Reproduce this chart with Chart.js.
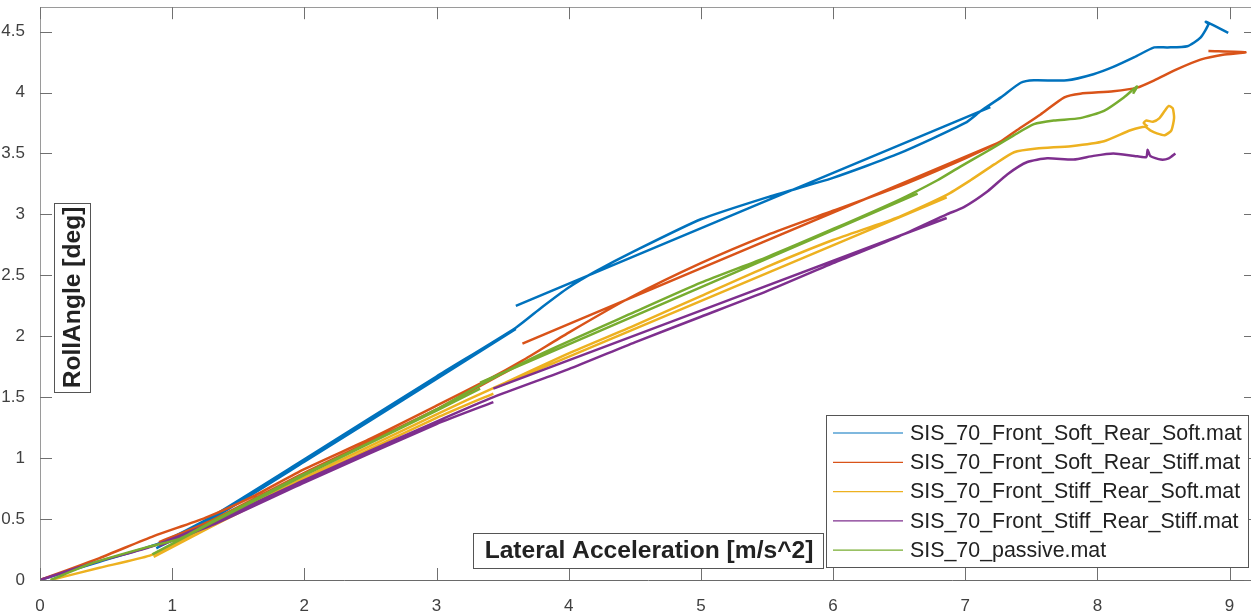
<!DOCTYPE html>
<html>
<head>
<meta charset="utf-8">
<script src="https://cdn.jsdelivr.net/npm/chart.js@4.4.0/dist/chart.umd.min.js"></script>
<style>
  html, body { margin: 0; padding: 0; overflow: hidden; background: #fff; }
  #wrap { position: relative; width: 1258px; height: 621px; margin-top: -10px; }
</style>
</head>
<body>
<div id="wrap"><canvas id="container" width="1258" height="621"></canvas></div>
<script>
// ---- data ----
const seriesNames = [
  "SIS_70_Front_Soft_Rear_Soft.mat",
  "SIS_70_Front_Soft_Rear_Stiff.mat",
  "SIS_70_Front_Stiff_Rear_Soft.mat",
  "SIS_70_Front_Stiff_Rear_Stiff.mat",
  "SIS_70_passive.mat",
];

// null = break in the recorded trace
const softSoftX = [0, 0.45, 0.9, 1.3, 2, 3, 3.6, 3.8, 4.0, 4.2, 4.5, 5, 5.5, 6, 6.5, 7, 7.12, 7.27, 7.42, 7.52, 7.77, 7.97, 8.12, 8.28, 8.43, 8.53, 8.68, 8.78, 8.84, 8.82, 8.88, 8.99,
  null, 7.19, 3.6,
  null, 3.6, 3, 2, 1.3, 0.88];
const softSoftY = [0, 0.15, 0.3, 0.52, 0.99, 1.67, 2.07, 2.24, 2.4, 2.53, 2.7, 2.96, 3.14, 3.3, 3.5, 3.75, 3.85, 3.96, 4.08, 4.1, 4.1, 4.15, 4.21, 4.29, 4.37, 4.37, 4.38, 4.45, 4.56, 4.58, 4.55, 4.49,
  null, 3.88, 2.25,
  null, 2.06, 1.65, 0.97, 0.5, 0.26];

const softStiffX = [0, 0.45, 0.86, 1.25, 1.6, 2, 2.5, 3, 3.4, 3.65, 4, 4.47, 5, 5.5, 6, 6.5, 7, 7.27, 7.39, 7.57, 7.75, 7.87, 8.12, 8.3, 8.43, 8.6, 8.78, 8.95, 9.12, 8.84,
  null, 7.28, 3.65,
  null, 3.63, 3, 2, 1.3, 0.9];
const softStiffY = [0, 0.18, 0.36, 0.51, 0.68, 0.91, 1.16, 1.43, 1.65, 1.8, 2.03, 2.32, 2.6, 2.83, 3.03, 3.23, 3.46, 3.6, 3.69, 3.82, 3.96, 3.99, 4.01, 4.04, 4.1, 4.19, 4.27, 4.31, 4.33, 4.34,
  null, 3.6, 1.94,
  null, 1.77, 1.4, 0.88, 0.49, 0.31];

const stiffSoftX = [0.08, 0.45, 0.83, 1.0, 1.3, 2, 2.5, 3, 3.5, 4, 4.5, 5, 5.5, 6, 6.5, 6.86, 7.04, 7.22, 7.37, 7.54, 7.8, 8.05, 8.25, 8.36, 8.4, 8.45, 8.51, 8.56, 8.58, 8.57, 8.54, 8.51, 8.47, 8.42, 8.37, 8.35, 8.38,
  null, 6.86, 3.45,
  null, 3.43, 3, 2, 1.3, 0.86];
const stiffSoftY = [0, 0.1, 0.2, 0.29, 0.46, 0.84, 1.1, 1.36, 1.61, 1.86, 2.09, 2.33, 2.57, 2.79, 2.98, 3.16, 3.28, 3.41, 3.51, 3.54, 3.56, 3.6, 3.69, 3.72, 3.69, 3.665, 3.65, 3.69, 3.79, 3.87, 3.89, 3.85, 3.79, 3.76, 3.77, 3.75, 3.72,
  null, 3.14, 1.58,
  null, 1.53, 1.33, 0.82, 0.44, 0.19];

const stiffStiffX = [0, 0.4, 0.83, 1.3, 2, 3, 3.43, 4, 4.5, 5, 5.5, 6, 6.5, 6.86, 6.99, 7.17, 7.32, 7.47, 7.62, 7.82, 7.97, 8.12, 8.28, 8.37, 8.38, 8.4, 8.48, 8.54, 8.59,
  null, 6.86, 3.43,
  null, 3.43, 3, 2, 1.3, 0.9];
const stiffStiffY = [0, 0.14, 0.27, 0.47, 0.82, 1.3, 1.5, 1.73, 1.95, 2.16, 2.37, 2.6, 2.82, 3.0, 3.06, 3.19, 3.33, 3.43, 3.46, 3.45, 3.48, 3.5, 3.48, 3.47, 3.53, 3.48, 3.45, 3.46, 3.5,
  null, 2.97, 1.57,
  null, 1.46, 1.28, 0.8, 0.45, 0.28];

const passiveX = [0.08, 0.4, 0.81, 1.06, 1.3, 2, 2.5, 3, 3.33, 3.8, 4.5, 5, 5.5, 6, 6.5, 6.79, 6.96, 7.17, 7.37, 7.52, 7.67, 7.87, 8.05, 8.2, 8.3, 8.27,
  null, 6.64, 3.33,
  null, 3.33, 3, 2, 1.3, 0.85];
const passiveY = [0, 0.14, 0.27, 0.34, 0.48, 0.87, 1.13, 1.4, 1.6, 1.86, 2.2, 2.44, 2.65, 2.88, 3.12, 3.28, 3.39, 3.52, 3.65, 3.74, 3.77, 3.79, 3.85, 3.96, 4.05, 3.99,
  null, 3.17, 1.62,
  null, 1.57, 1.39, 0.86, 0.47, 0.21];

const xTicks = [0, 1, 2, 3, 4, 5, 6, 7, 8, 9];
const yTicks = [0, 0.5, 1, 1.5, 2, 2.5, 3, 3.5, 4, 4.5];

const colors = ["#0072BD", "#D95319", "#EDB120", "#7E2F8E", "#77AC30"];
const FONT = "'Liberation Sans', Arial, Helvetica, sans-serif";

const toPoints = (xs, ys) => xs.map((x, i) => ({ x: x, y: ys[i] }));

const traces = [
  toPoints(softSoftX, softSoftY),
  toPoints(softStiffX, softStiffY),
  toPoints(stiffSoftX, stiffSoftY),
  toPoints(stiffStiffX, stiffStiffY),
  toPoints(passiveX, passiveY),
];

// inward ticks + box, matlab style
const boxTicks = {
  id: "boxTicks",
  afterDraw(chart) {
    const { ctx, chartArea: a, scales: { x, y } } = chart;
    const len = 12;
    ctx.save();
    ctx.lineWidth = 1;
    ctx.strokeStyle = "#9a9a9a";
    ctx.beginPath();
    ctx.moveTo(a.left, Math.round(a.top) + 0.5);
    ctx.lineTo(a.right, Math.round(a.top) + 0.5);
    ctx.moveTo(a.right - 0.5, a.top);
    ctx.lineTo(a.right - 0.5, a.bottom);
    ctx.stroke();
    ctx.strokeStyle = "#707070";
    ctx.beginPath();
    xTicks.forEach((v) => {
      const px = Math.round(x.getPixelForValue(v)) + 0.5;
      ctx.moveTo(px, a.bottom);
      ctx.lineTo(px, a.bottom - len);
      ctx.moveTo(px, a.top);
      ctx.lineTo(px, a.top + len);
    });
    yTicks.forEach((v) => {
      const py = Math.round(y.getPixelForValue(v)) + 0.5;
      ctx.moveTo(a.left, py);
      ctx.lineTo(a.left + len, py);
      ctx.moveTo(a.right, py);
      ctx.lineTo(a.right - len, py);
    });
    ctx.stroke();
    ctx.restore();
  },
};

// boxed axis labels and legend drawn inside the axes (page y = canvas y - 10)
const boxedText = {
  id: "boxedText",
  afterDraw(chart) {
    const { ctx } = chart;
    const dy = 10;
    ctx.save();
    ctx.fillStyle = "#fff";
    ctx.strokeStyle = "#555";
    ctx.lineWidth = 1;

    // x label
    ctx.fillRect(473, 533 + dy, 350, 35);
    ctx.strokeRect(473.5, 533.5 + dy, 350, 35);
    ctx.fillStyle = "#222";
    ctx.font = "bold 24.6px " + FONT;
    ctx.textAlign = "center";
    ctx.textBaseline = "middle";
    ctx.fillText("Lateral Acceleration [m/s^2]", 649, 551 + dy);

    // y label
    ctx.fillStyle = "#fff";
    ctx.fillRect(54, 203 + dy, 36, 189);
    ctx.strokeRect(54.5, 203.5 + dy, 36, 189);
    ctx.save();
    ctx.translate(73, 297.5 + dy);
    ctx.rotate(-Math.PI / 2);
    ctx.fillStyle = "#222";
    ctx.fillText("RollAngle [deg]", 0, 0);
    ctx.restore();

    // legend
    ctx.fillStyle = "#fff";
    ctx.fillRect(826, 415 + dy, 422, 152);
    ctx.strokeRect(826.5, 415.5 + dy, 422, 152);
    ctx.font = "21.4px " + FONT;
    ctx.textAlign = "left";
    chart.data.datasets.forEach((ds, i) => {
      const yy = 433 + dy + i * 29.3;
      ctx.strokeStyle = ds.borderColor;
      ctx.lineWidth = 1.2;
      ctx.beginPath();
      ctx.moveTo(833, yy);
      ctx.lineTo(903, yy);
      ctx.stroke();
      ctx.fillStyle = "#222";
      ctx.fillText(ds.label, 910, yy + 1);
    });
    ctx.restore();
  },
};

const chart = new Chart(document.getElementById("container"), {
  type: "scatter",
  data: {
    datasets: traces.map((pts, i) => ({
      label: seriesNames[i],
      data: pts,
      showLine: true,
      borderColor: colors[i],
      backgroundColor: colors[i],
      borderWidth: 2.5,
      pointRadius: 0,
      tension: 0.2,
      spanGaps: false,
      order: traces.length - i,
    })),
  },
  options: {
    responsive: false,
    animation: false,
    events: [],
    layout: { padding: { left: 0, top: 0, right: 2, bottom: 0 } },
    plugins: { legend: { display: false }, tooltip: { enabled: false } },
    scales: {
      x: {
        type: "linear",
        min: 0,
        max: 9.2,
        afterFit: (s) => { s.height = 31; },
        afterBuildTicks: (s) => { s.ticks = xTicks.map((v) => ({ value: v })); },
        grid: { display: false },
        border: { display: true, color: "#6a6a6a", width: 1 },
        ticks: {
          color: "#404040",
          padding: 8,
          maxRotation: 0,
          font: { family: FONT, size: 17 },
          callback: (v) => String(v),
        },
      },
      y: {
        type: "linear",
        min: 0,
        max: 4.7,
        afterFit: (s) => { s.width = 40; },
        afterBuildTicks: (s) => { s.ticks = yTicks.map((v) => ({ value: v })); },
        grid: { display: false },
        border: { display: true, color: "#9a9a9a", width: 1 },
        ticks: {
          color: "#404040",
          padding: 7,
          font: { family: FONT, size: 17 },
          callback: (v) => String(v),
        },
      },
    },
  },
  plugins: [boxTicks, boxedText],
});
</script>
</body>
</html>
